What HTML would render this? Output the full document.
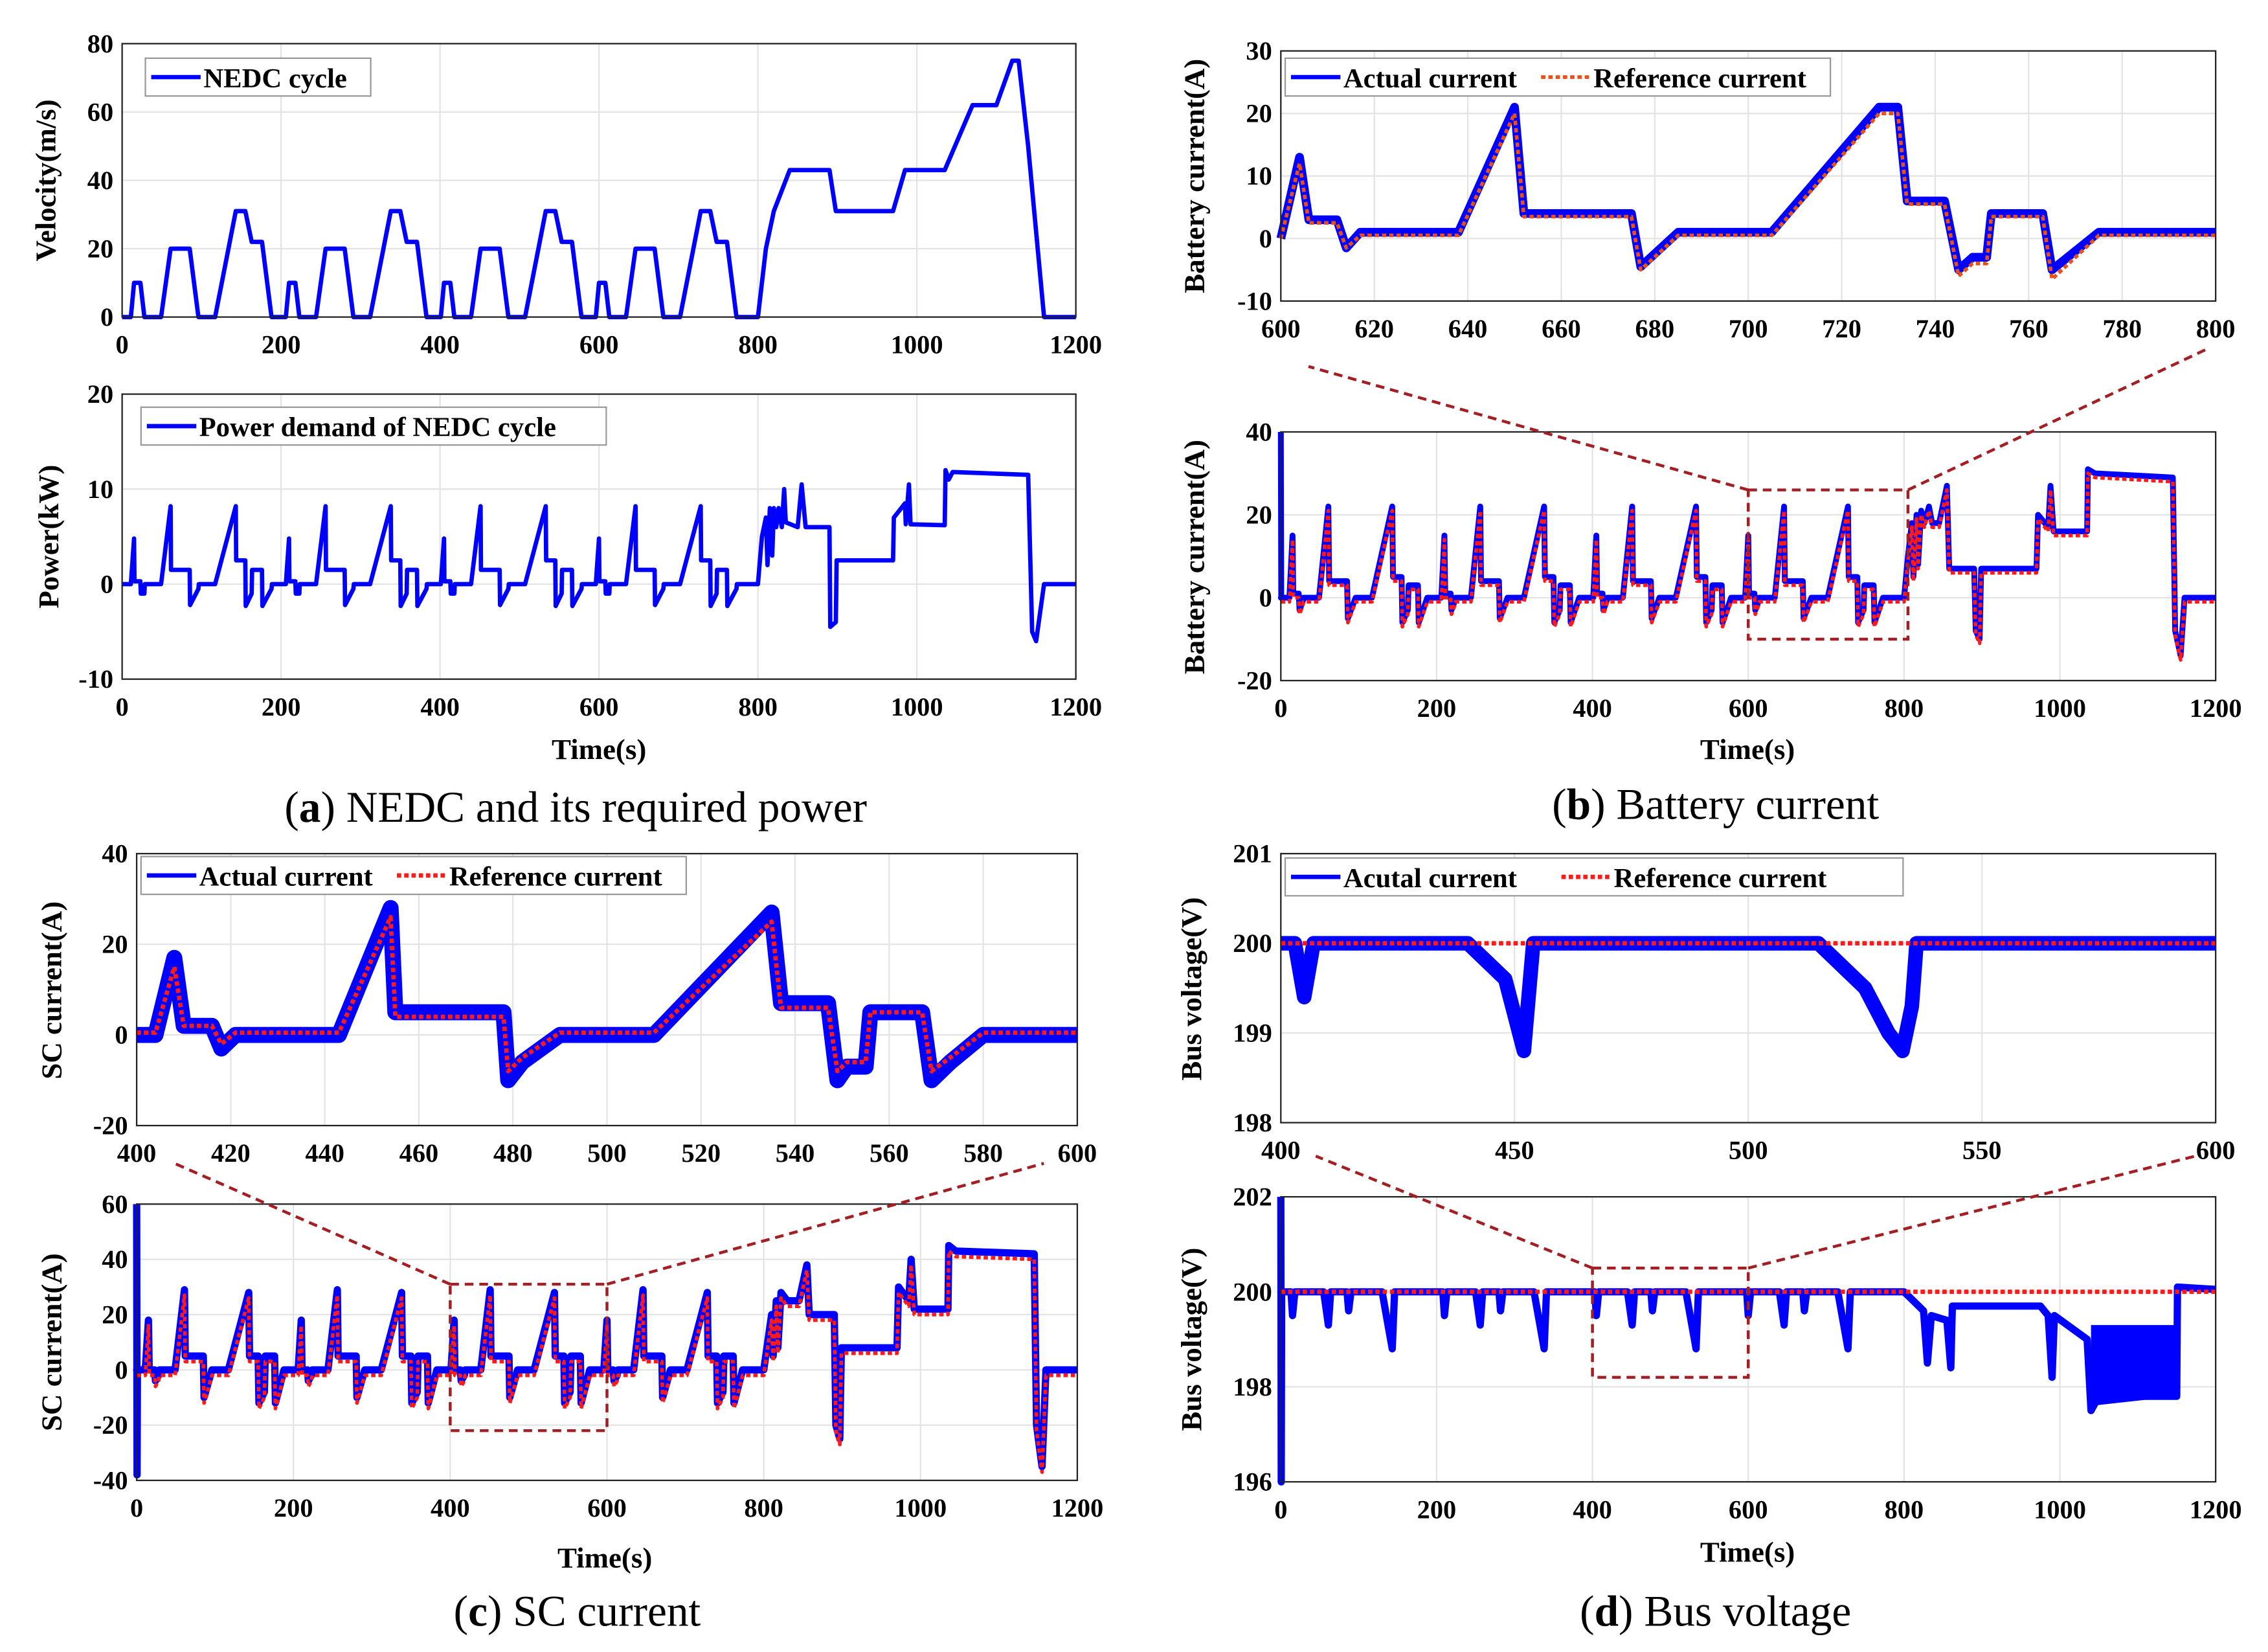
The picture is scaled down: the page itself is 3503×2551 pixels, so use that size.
<!DOCTYPE html>
<html><head><meta charset="utf-8">
<style>
html,body{margin:0;padding:0;background:#fff;}
svg{display:block;}
text{font-family:"Liberation Serif",serif;}
</style></head>
<body>
<svg id="fig" width="3503" height="2551" viewBox="0 0 1560 1136" xmlns="http://www.w3.org/2000/svg">
<rect x="0" y="0" width="1560" height="1136" fill="#fff"/>
<text x="396" y="565" font-size="30" text-anchor="middle">(<tspan font-weight="bold">a</tspan>) NEDC and its required power</text>
<text x="1180" y="563" font-size="30" text-anchor="middle">(<tspan font-weight="bold">b</tspan>) Battery current</text>
<text x="397" y="1118" font-size="30" text-anchor="middle">(<tspan font-weight="bold">c</tspan>) SC current</text>
<text x="1180" y="1118" font-size="30" text-anchor="middle">(<tspan font-weight="bold">d</tspan>) Bus voltage</text>
</svg>
<script>
// ---- data ----
const eceVel = [[0,0],[11,0],[15,10],[23,10],[28,0],[49,0],[61,20],[85,20],[96,0],[117,0],[143,31],[155,31],[163,22],[176,22],[188,0],[195,0]];
const eudcVel = [[800,0],[810,20],[820,31],[840,43],[890,43],[898,31],[970,31],[985,43],[1035,43],[1070,62],[1100,62],[1120,75],[1128,75],[1140,50],[1160,0],[1200,0]];
const ecePower = [[0,0],[11,0],[15,4.8],[15.5,0.3],[23,0.3],[23.5,-1],[28,-1],[28.5,0],[49,0],[61,8.2],[61.5,1.5],[85,1.5],[85.5,-2.2],[96,-0.5],[96.5,0],[117,0],[143,8.2],[143.5,2.5],[155,2.5],[155.5,-2.3],[163,-1],[163.5,1.5],[176,1.5],[176.5,-2.3],[188,-0.5],[188.5,0],[195,0]];
const eudcPower = [[800,0],[805,5],[810,7],[812,2],[815,8],[818,3],[820,8],[823,6],[826,8],[830,6],[833,10],[835,6.5],[850,6],[855,10.5],[860,6],[890,6],[891,-4.5],[898,-4],[899,2.5],[970,2.5],[971,7],[985,8.5],[986,6.3],[990,10.5],[992,6.3],[1035,6.2],[1036,12],[1040,11],[1045,11.8],[1140,11.5],[1145,-5],[1150,-6],[1160,0],[1200,0]];
const eceBatt = [[0,0],[11,0],[15,15],[16,1],[23,1],[24,-3],[28,-1],[29,0],[49,0],[61,22],[62,4],[85,4],[86,-5],[96,0],[117,0],[143,22],[144,5],[155,5],[156,-6],[163,-3],[164,3],[176,3],[177,-6],[188,0],[195,0]];
const eudcBatt = [[800,0],[805,10],[810,18],[812,5],[816,20],[818,8],[822,21],[826,18],[832,22],[836,18],[845,18],[855,27],[858,7],[890,7],[892,-8],[897,-10],[899,7],[970,7],[972,20],[985,17],[988,27],[992,16],[1035,16],[1036,31],[1045,30],[1145,29],[1148,-8],[1155,-14],[1160,0],[1200,0]];
const battZoom = [[600,0],[604,13],[606,3],[612,3],[614,-1.5],[617,1],[638,1],[650,21],[652,4],[675,4],[677,-4.5],[685,1],[705,1],[728,21],[732,21],[734,6],[742,6],[745,-5],[748,-3],[751,-3],[752,4],[763,4],[765,-5],[775,1],[800,1]];
const battZoomRef = [[600,0],[604,12],[606,2.5],[612,2.5],[614,-1.5],[617,0.5],[638,0.5],[650,20],[652,3.5],[675,3.5],[677,-5],[685,0.5],[705,0.5],[728,20],[732,20],[734,5.5],[742,5.5],[745,-6],[748,-4],[751,-4],[752,3.5],[763,3.5],[765,-6.5],[775,0.5],[800,0.5]];
const eceSC = [[0,0],[11,0],[15,18],[16,0],[23,0],[24,-4],[28,-2],[29,0],[49,0],[61,29],[62,5],[85,5],[86,-10],[96,0],[117,0],[143,28],[144,5],[155,5],[156,-12],[163,-8],[164,5],[176,5],[177,-12],[188,0],[195,0]];
const eudcSC = [[800,0],[810,20],[812,5],[816,25],[818,8],[822,28],[830,25],[845,25],[855,38],[858,20],[890,20],[892,-20],[897,-25],[899,8],[970,8],[972,30],[985,25],[988,40],[992,22],[1035,22],[1036,45],[1045,43],[1145,42],[1148,-20],[1155,-35],[1160,0],[1200,0]];
const scZoom = [[400,0],[404,0],[408,17],[410,2],[416,2],[418,-3],[421,0],[443,0],[454,28],[455,5],[478,5],[479,-10],[482,-6],[490,0],[510,0],[535,27],[537,7],[547,7],[549,-10],[551,-7],[555,-7],[556,5],[567,5],[569,-10],[573,-6],[580,0],[600,0]];
const scZoomRef = [[400,0.5],[404,0.5],[408,15],[410,2],[416,2],[418,-2],[421,0.5],[443,0.5],[454,26],[455,4],[478,4],[479,-8],[482,-5],[490,0.5],[510,0.5],[535,25],[537,6],[547,6],[549,-8],[551,-6],[555,-6],[556,5],[567,5],[569,-8],[573,-5],[580,0.5],[600,0.5]];
const eceBus = [[0,200],[13,200],[15,199.5],[18,200],[55,200],[61,199.3],[64,200],[85,200],[87,199.6],[90,200],[130,200],[143,198.8],[146,200],[195,200]];
const eudcBus = [[800,200],[825,199.6],[830,198.5],[835,199.5],[855,199.4],[860,198.4],[862,199.7],[975,199.7],[985,199.5],[990,198.2],[993,199.5],[1035,199],[1040,197.5],[1050,197.8],[1150,197.8],[1151,200.1],[1200,200.05]];
const busBandLo = [[1040,197.6],[1150,197.8]];
const busZoom = [[400,200],[403,200],[405,199.4],[407,200],[440,200],[448,199.6],[452,198.8],[454,200],[515,200],[525,199.5],[530,199],[533,198.8],[535,199.3],[536,200],[600,200]];
const busRef = [[400,200],[600,200]];

const NS="http://www.w3.org/2000/svg";
const svg=document.getElementById('fig');
function mk(tag,attrs){const e=document.createElementNS(NS,tag);for(const k in attrs)e.setAttribute(k,attrs[k]);svg.appendChild(e);return e;}
function cyc(ece,eudc){const out=[];for(let c=0;c<4;c++)for(const p of ece)out.push([p[0]+195*c,p[1]]);return out.concat(eudc);}

function axes(name,x0,x1,y0,y1,xmin,xmax,ymin,ymax,xt,yt){
  const sx=v=>x0+(v-xmin)/(xmax-xmin)*(x1-x0);
  const sy=v=>y1-(v-ymin)/(ymax-ymin)*(y1-y0);
  const bg=mk('rect',{x:x0,y:y0,width:x1-x0,height:y1-y0,fill:'#fff'});
  
  
  for(const t of xt){
    const g=mk('line',{x1:sx(t),x2:sx(t),y1:y0,y2:y1,stroke:'#e3e3e3','stroke-width':1});
    
    
    const tx=mk('text',{x:sx(t),y:y1+25,'font-size':18,'font-weight':'bold','text-anchor':'middle'});
    tx.textContent=t;
    
    
  }
  for(const t of yt){
    const g=mk('line',{x1:x0,x2:x1,y1:sy(t),y2:sy(t),stroke:'#e3e3e3','stroke-width':1});
    
    
    const tx=mk('text',{x:x0-6,y:sy(t)+6,'font-size':18,'font-weight':'bold','text-anchor':'end'});
    tx.textContent=t;
    
    
  }
  return {sx,sy,x0,x1,y0,y1,name};
}
function frame(a){
  const r=mk('rect',{x:a.x0,y:a.y0,width:a.x1-a.x0,height:a.y1-a.y0,fill:'none',stroke:'#222','stroke-width':1});
  
  
}
function line(a,data,color,w,dash,name){
  let d='';data.forEach((p,i)=>{d+=(i?'L':'M')+a.sx(p[0]).toFixed(2)+' '+a.sy(p[1]).toFixed(2);});
  const at={d:d,fill:'none',stroke:color,'stroke-width':w,'stroke-linejoin':'round'};
  if(dash)at['stroke-dasharray']=dash;
  const e=mk('path',at);
  
  
}
function ylabel(text,x,y,name){
  const e=mk('text',{x:x,y:y,'font-size':20,'font-weight':'bold','text-anchor':'middle',transform:'rotate(-90 '+x+' '+y+')'});
  e.textContent=text;
  
  
}
function xlabel(text,x,y,name){
  const e=mk('text',{x:x,y:y,'font-size':20,'font-weight':'bold','text-anchor':'middle'});
  e.textContent=text;
  
  
}
function legend(x,y,w,items,name){
  const r=mk('rect',{x:x,y:y,width:w,height:26,fill:'#fff',stroke:'#999','stroke-width':1});
  
  
  let cx=x+4;
  for(const it of items){
    const l=mk('line',{x1:cx,x2:cx+34,y1:y+13,y2:y+13,stroke:it.c,'stroke-width':it.w});
    if(it.dash)l.setAttribute('stroke-dasharray',it.dash);
    
    
    const t=mk('text',{x:cx+36,y:y+20,'font-size':19,'font-weight':'bold'});
    t.textContent=it.t;
    
    
    cx+=36+it.tw;
  }
}
const BLUE='#0000ff', RED='#ff1a1a', ORG='#e8501a', DR='#a31f24';
const X12=[0,200,400,600,800,1000,1200];

// (a) velocity
let a=axes('velocity',84,740,30,218,0,1200,0,80,X12,[0,20,40,60,80]);
line(a,cyc(eceVel,eudcVel),BLUE,3,null,'nedc-velocity-line');
frame(a); ylabel('Velocity(m/s)',38,124,'velocity-y-title');
legend(100,40,155,[{t:'NEDC cycle',c:BLUE,w:3,tw:112}],'velocity-legend');
// (a) power
a=axes('power',84,740,271,467,0,1200,-10,20,X12,[-10,0,10,20]);
line(a,cyc(ecePower,eudcPower),BLUE,3,null,'power-demand-line');
frame(a); ylabel('Power(kW)',40,369,'power-y-title'); xlabel('Time(s)',412,522,'power-x-title');
legend(97,280,320,[{t:'Power demand of NEDC cycle',c:BLUE,w:3,tw:280}],'power-legend');

// (b) battery zoom
a=axes('battery-zoom',881,1524,35,207,600,800,-10,30,[600,620,640,660,680,700,720,740,760,780,800],[-10,0,10,20,30]);
line(a,battZoom,BLUE,6,null,'battery-zoom-actual');
line(a,battZoomRef,ORG,2.5,'3 2','battery-zoom-reference');
frame(a); ylabel('Battery current(A)',828,121,'battery-zoom-y-title');
legend(884,40,375,[{t:'Actual current',c:BLUE,w:3,tw:136},{t:'Reference current',c:ORG,w:2.5,dash:'3 2',tw:170}],'battery-zoom-legend');
// (b) battery full
a=axes('battery',881,1524,297,468,0,1200,-20,40,X12,[-20,0,20,40]);
line(a,[[0,40],[0.5,0]].concat(cyc(eceBatt,eudcBatt)),BLUE,4,null,'battery-actual');
line(a,cyc(eceBatt,eudcBatt).map(p=>[p[0],p[1]-1]),RED,2.5,'3 2','battery-reference');
frame(a); ylabel('Battery current(A)',828,383,'battery-y-title'); xlabel('Time(s)',1202,522,'battery-x-title');
const bz=a;

// (c) SC zoom
a=axes('sc-zoom',94,741,587,774,400,600,-20,40,[400,420,440,460,480,500,520,540,560,580,600],[-20,0,20,40]);
line(a,scZoom,BLUE,11,null,'sc-zoom-actual');
line(a,scZoomRef,RED,3,'3 2','sc-zoom-reference');
frame(a); ylabel('SC current(A)',42,681,'sc-zoom-y-title');
legend(97,589,375,[{t:'Actual current',c:BLUE,w:3,tw:136},{t:'Reference current',c:RED,w:3,dash:'3 2',tw:170}],'sc-zoom-legend');
// (c) SC full
a=axes('sc',94,741,828,1018,0,1200,-40,60,X12,[-40,-20,0,20,40,60]);
line(a,[[0,60],[0.5,-38],[1,0]].concat(cyc(eceSC,eudcSC)),BLUE,5,null,'sc-actual');
line(a,cyc(eceSC,eudcSC).map(p=>[p[0],p[1]-2]),RED,2.5,'3 2','sc-reference');
frame(a); ylabel('SC current(A)',42,923,'sc-y-title'); xlabel('Time(s)',416,1078,'sc-x-title');
const sz=a;

// (d) bus zoom
a=axes('bus-zoom',881,1524,587,772,400,600,198,201,[400,450,500,550,600],[198,199,200,201]);
line(a,busZoom,BLUE,10,null,'bus-zoom-actual');
line(a,busRef,RED,3,'3 2','bus-zoom-reference');
frame(a); ylabel('Bus voltage(V)',826,680,'bus-zoom-y-title');
legend(884,590,425,[{t:'Acutal current',c:BLUE,w:3,tw:150},{t:'Reference current',c:RED,w:3,dash:'3 2',tw:180}],'bus-zoom-legend');
// (d) bus full
a=axes('bus',881,1524,823,1019,0,1200,196,202,X12,[196,198,200,202]);
{let d='M'+a.sx(busBandLo[0][0])+' '+a.sy(199.3);for(const p of busBandLo)d+='L'+a.sx(p[0])+' '+a.sy(p[1]);d+='L'+a.sx(busBandLo[busBandLo.length-1][0])+' '+a.sy(199.3)+'Z';
const f=mk('path',{d:d,fill:BLUE});

}
line(a,[[0,202],[0.5,196],[1,200]].concat(cyc(eceBus,eudcBus)),BLUE,5,null,'bus-actual');
line(a,[[0,200],[1200,200]],RED,3,'3 2','bus-reference');
frame(a); ylabel('Bus voltage(V)',826,921,'bus-y-title'); xlabel('Time(s)',1202,1074,'bus-x-title');
const vz=a;

// zoom indicator boxes & connectors
function zbox(ax,t0,t1,v0,v1,tx0,ty0,tx1,ty1,name){
  const r=mk('rect',{x:ax.sx(t0),y:ax.sy(v1),width:ax.sx(t1)-ax.sx(t0),height:ax.sy(v0)-ax.sy(v1),fill:'none',stroke:DR,'stroke-width':2,'stroke-dasharray':'6 4'});
  
  
  const l1=mk('line',{x1:ax.sx(t0),y1:ax.sy(v1),x2:tx0,y2:ty0,stroke:DR,'stroke-width':2,'stroke-dasharray':'6 4'});
  
  
  const l2=mk('line',{x1:ax.sx(t1),y1:ax.sy(v1),x2:tx1,y2:ty1,stroke:DR,'stroke-width':2,'stroke-dasharray':'6 4'});
  
  
}
zbox(bz,600,805,-10,26,900,252,1518,240,'battery');
zbox(sz,400,600,-22,31,120,800,718,800,'sc');
zbox(vz,400,600,198.2,200.5,905,795,1510,795,'bus');
</script>
</body></html>
